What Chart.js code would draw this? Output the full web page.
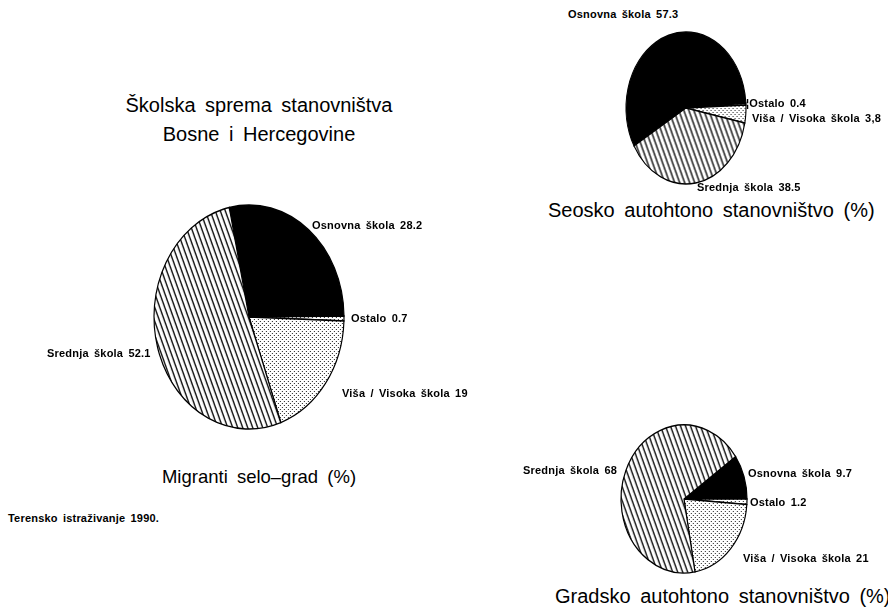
<!DOCTYPE html>
<html>
<head>
<meta charset="utf-8">
<script src="https://cdn.jsdelivr.net/npm/chart.js@4.4.1/dist/chart.umd.min.js"></script>
<style>
  html, body { margin: 0; padding: 0; background: #fff; }
  #page { position: relative; width: 888px; height: 607px; overflow: hidden; background: #fff; }
  canvas { position: absolute; }
  .t { position: absolute; font-family: "Liberation Sans", Arial, sans-serif; color: #000; white-space: nowrap; line-height: 1; }
  .title { word-spacing: 4px; }
  .lab { font-size: 11px; font-weight: bold; word-spacing: 2px; letter-spacing: 0.2px; }
</style>
</head>
<body>
<div id="page"></div>
<script>
// ---- data ----
const categories = ['Osnovna škola', 'Ostalo', 'Viša / Visoka škola', 'Srednja škola'];
const migrantiValues = [28.2, 0.7, 19, 52.1];
const seoskoValues = [57.3, 0.4, 3.8, 38.5];
const gradskoValues = [9.7, 1.2, 21, 68];
const migrantiText = ['28.2', '0.7', '19', '52.1'];
const seoskoText = ['57.3', '0.4', '3,8', '38.5'];
const gradskoText = ['9.7', '1.2', '21', '68'];
const mainTitle = ['Školska sprema stanovništva', 'Bosne i Hercegovine'];
const chartTitles = ['Migranti selo–grad (%)', 'Seosko autohtono stanovništvo (%)', 'Gradsko autohtono stanovništvo (%)'];
const sourceNote = 'Terensko istraživanje 1990.';

const page = document.getElementById('page');

function addText(str, cls, left, baseline, fs, align) {
  const d = document.createElement('div');
  d.className = 't ' + cls;
  d.textContent = str;
  d.style.fontSize = fs + 'px';
  d.style.top = (baseline - 0.83 * fs) + 'px';
  d.style.left = left + 'px';
  if (align === 'center') d.style.transform = 'translateX(-50%)';
  page.appendChild(d);
  return d;
}

function hatchPattern(sx) {
  const w = 5, h = 14;
  const c = document.createElement('canvas');
  c.width = w; c.height = h;
  const g = c.getContext('2d');
  g.fillStyle = '#fff'; g.fillRect(0, 0, w, h);
  g.strokeStyle = '#000'; g.lineWidth = 1.3;
  for (let k = -1; k <= 1; k++) {
    g.beginPath();
    g.moveTo(k * w - w, -h);
    g.lineTo(k * w + 2 * w, 2 * h);
    g.stroke();
  }
  const p = g.createPattern(c, 'repeat');
  p.setTransform(new DOMMatrix([1 / sx, 0, 0, 1, 0, 0]));
  return p;
}
function dotPattern(sx) {
  const c = document.createElement('canvas');
  c.width = 4; c.height = 4;
  const g = c.getContext('2d');
  g.fillStyle = '#fff'; g.fillRect(0, 0, 4, 4);
  g.fillStyle = '#222';
  g.fillRect(0, 0, 1, 1);
  g.fillRect(2, 2, 1, 1);
  const p = g.createPattern(c, 'repeat');
  p.setTransform(new DOMMatrix([1 / sx, 0, 0, 1, 0, 0]));
  return p;
}

const ellipsePlugin = {
  id: 'ellipse',
  beforeDatasetsDraw(chart, args, opts) {
    const arc = chart.getDatasetMeta(0).data[0];
    const ctx = chart.ctx;
    ctx.save();
    ctx.translate(arc.x, arc.y);
    ctx.scale(opts.sx || 1, 1);
    ctx.translate(-arc.x, -arc.y);
  },
  afterDatasetsDraw(chart) {
    chart.ctx.restore();
  }
};

function makePie(values, cx, cy, rx, ry, rotation) {
  const S = Math.ceil(2 * ry + 24);
  const cv = document.createElement('canvas');
  cv.width = S; cv.height = S;
  cv.style.width = S + 'px'; cv.style.height = S + 'px';
  cv.style.left = (cx - S / 2) + 'px';
  cv.style.top = (cy - S / 2) + 'px';
  page.appendChild(cv);
  const sx = rx / ry;
  new Chart(cv, {
    type: 'pie',
    data: {
      labels: categories,
      datasets: [{
        data: values,
        backgroundColor: ['#000', dotPattern(sx), dotPattern(sx), hatchPattern(sx)],
        borderColor: '#000',
        borderWidth: 1.4,
        borderJoinStyle: 'miter'
      }]
    },
    options: {
      responsive: false,
      animation: false,
      rotation: rotation,
      radius: ry,
      layout: { padding: 0 },
      events: [],
      plugins: {
        legend: { display: false },
        tooltip: { enabled: false },
        title: { display: false },
        ellipse: { sx: sx }
      }
    },
    plugins: [ellipsePlugin]
  });
}

// pies
makePie(migrantiValues, 249, 317, 95, 112, -12);
makePie(seoskoValues, 686, 108, 60, 76, -120);
makePie(gradskoValues, 684, 499, 63, 74, 55);

// titles
addText(mainTitle[0], 'title', 259, 112, 20, 'center');
addText(mainTitle[1], 'title', 259, 141, 20, 'center');
addText(chartTitles[0], 'title', 259, 483, 18.5, 'center');
addText(chartTitles[1], 'title', 548, 217, 20);
addText(chartTitles[2], 'title', 555, 603, 20);
addText(sourceNote, 'lab', 8, 522, 11);

// slice labels (category + value)
const L = (i, txt) => categories[i] + ' ' + txt[i];
addText(L(0, migrantiText), 'lab', 312, 229, 11);
addText(L(1, migrantiText), 'lab', 351, 322, 11);
addText(L(2, migrantiText), 'lab', 342, 397, 11);
addText(L(3, migrantiText), 'lab', 47, 357, 11);

addText(L(0, seoskoText), 'lab', 568, 18, 11);
addText('¦' + L(1, seoskoText), 'lab', 746, 107, 11);
addText(L(2, seoskoText), 'lab', 752, 122, 11);
addText(L(3, seoskoText), 'lab', 697, 191, 11);

addText(L(3, gradskoText), 'lab', 523, 474, 11);
addText(L(0, gradskoText), 'lab', 748, 477, 11);
addText(L(1, gradskoText), 'lab', 750, 506, 11);
addText(L(2, gradskoText), 'lab', 743, 562, 11);
</script>
</body>
</html>
